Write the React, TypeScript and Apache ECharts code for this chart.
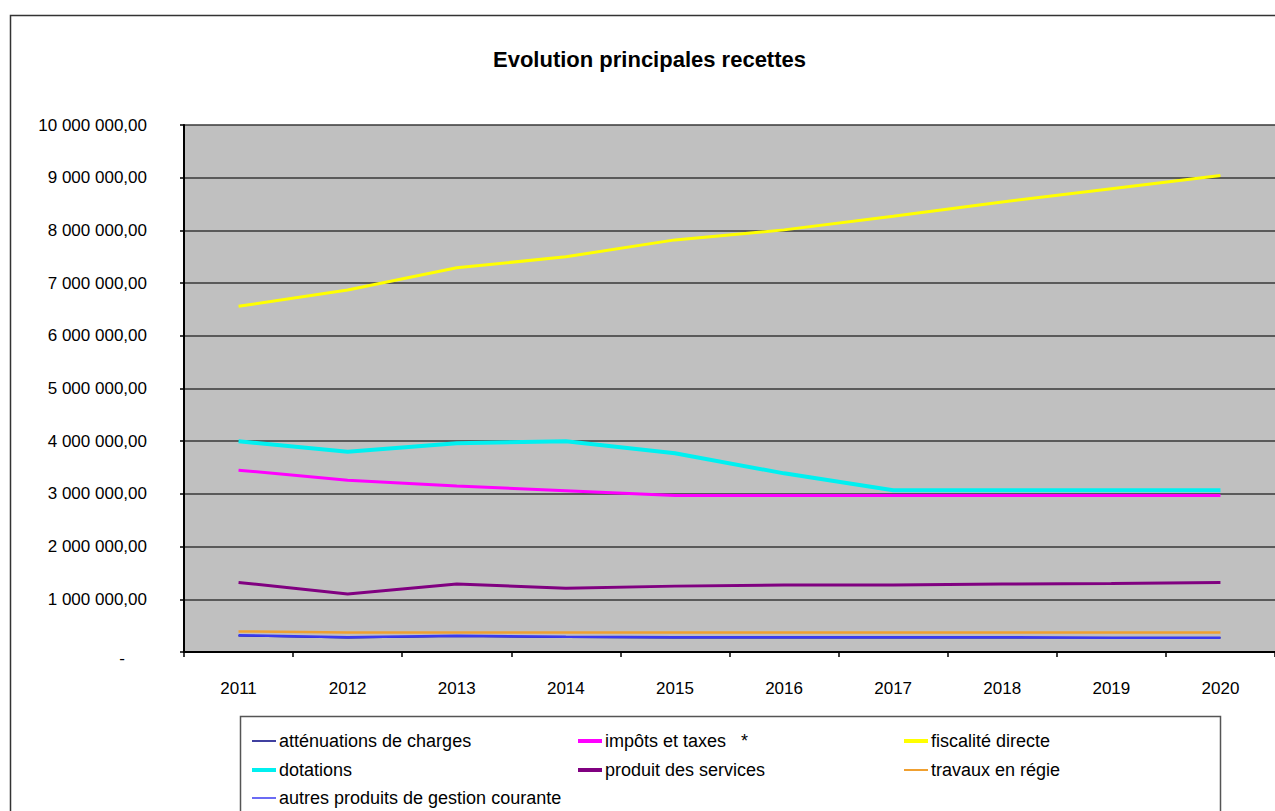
import React, { useEffect, useRef } from "react";
import * as echarts from "echarts";

const years = ["2011", "2012", "2013", "2014", "2015", "2016", "2017", "2018", "2019", "2020"];
const attenuations = [310000, 270000, 300000, 280000, 270000, 270000, 270000, 270000, 270000, 270000];
const impots = [3450000, 3260000, 3150000, 3060000, 2970000, 2970000, 2970000, 2970000, 2970000, 2970000];
const fiscalite = [6560000, 6870000, 7290000, 7500000, 7820000, 8010000, 8270000, 8540000, 8790000, 9040000];
const dotations = [4000000, 3800000, 3960000, 4000000, 3770000, 3390000, 3070000, 3070000, 3070000, 3070000];
const produit = [1320000, 1100000, 1290000, 1210000, 1250000, 1270000, 1270000, 1290000, 1300000, 1320000];
const travaux = [390000, 370000, 370000, 370000, 370000, 370000, 370000, 370000, 370000, 370000];
const autres = [320000, 280000, 310000, 290000, 280000, 280000, 280000, 280000, 270000, 270000];

const seriesDefs = [
  { name: "atténuations de charges", data: attenuations, color: "#000080", width: 1.5, legend: [247, 727, 1.5] },
  { name: "impôts et taxes   *", data: impots, color: "#ff00ff", width: 3, legend: [573, 727, 4] },
  { name: "fiscalité directe", data: fiscalite, color: "#ffff00", width: 3, legend: [899, 727, 4] },
  { name: "dotations", data: dotations, color: "#00f0f0", width: 4, legend: [247, 756, 4] },
  { name: "produit des services", data: produit, color: "#800080", width: 3, legend: [573, 756, 4] },
  { name: "travaux en régie", data: travaux, color: "#f0a030", width: 2.5, legend: [899, 756, 2] },
  { name: "autres produits de gestion courante", data: autres, color: "#3a3af0", width: 2.5, legend: [247, 784, 1.5] },
];

const fmt = (v: number) =>
  v === 0 ? "{z|-}" : Math.round(v).toString().replace(/\B(?=(\d{3})+(?!\d))/g, " ") + ",00";

export default function App() {
  const ref = useRef<HTMLDivElement>(null);
  useEffect(() => {
    document.body.style.margin = "0";
    const chart = echarts.init(ref.current!, undefined, { renderer: "svg" });
    const font = "'Liberation Sans', Arial, sans-serif";
    chart.setOption({
      animation: false,
      backgroundColor: "#ffffff",
      title: {
        text: "Evolution principales recettes",
        left: 488,
        top: 43,
        textStyle: { fontFamily: font, fontWeight: "bold", fontSize: 22, color: "#000" },
      },
      graphic: [
        {
          type: "rect",
          z: 0,
          shape: { x: 10.5, y: 15.5, width: 1320, height: 900 },
          style: { fill: "none", stroke: "#333", lineWidth: 1.5 },
        },
        {
          type: "rect",
          z: 0,
          shape: { x: 240.5, y: 716.5, width: 980, height: 200 },
          style: { fill: "#fff", stroke: "#555", lineWidth: 1.5 },
        },
      ],
      legend: seriesDefs.map((s) => ({
        data: [s.name],
        left: s.legend[0],
        top: s.legend[1],
        icon: "rect",
        itemWidth: 24,
        itemHeight: s.legend[2],
        textStyle: { fontFamily: font, fontSize: 18, color: "#000", padding: [0, 0, 0, -2] },
      })),
      grid: { left: 184, top: 125, width: 1094, height: 527, backgroundColor: "#c0c0c0", show: true, borderWidth: 0 },
      xAxis: {
        type: "category",
        data: years,
        boundaryGap: true,
        axisLine: { lineStyle: { color: "#000", width: 2 } },
        axisTick: { show: true, length: 5, lineStyle: { color: "#000", width: 1.5 } },
        axisLabel: { margin: 28, fontFamily: font, fontSize: 17, color: "#000" },
      },
      yAxis: {
        type: "value",
        min: 0,
        max: 10000000,
        interval: 1000000,
        axisLine: { show: true, lineStyle: { color: "#000", width: 2 } },
        axisTick: { show: true, length: 4, lineStyle: { color: "#000", width: 1.5 } },
        splitLine: { show: true, lineStyle: { color: "#383838", width: 1.5 } },
        axisLabel: {
          margin: 37,
          fontFamily: font,
          fontSize: 17,
          color: "#000",
          formatter: fmt,
          rich: { z: { fontFamily: font, fontSize: 17, color: "#000", padding: [12, 22, 0, 0] } },
        },
      },
      series: seriesDefs.map((s) => ({
        name: s.name,
        type: "line",
        data: s.data,
        symbol: "none",
        color: s.color,
        lineStyle: { color: s.color, width: s.width },
      })),
    });
    return () => chart.dispose();
  }, []);
  return <div ref={ref} style={{ width: 1275, height: 811 }} />;
}
